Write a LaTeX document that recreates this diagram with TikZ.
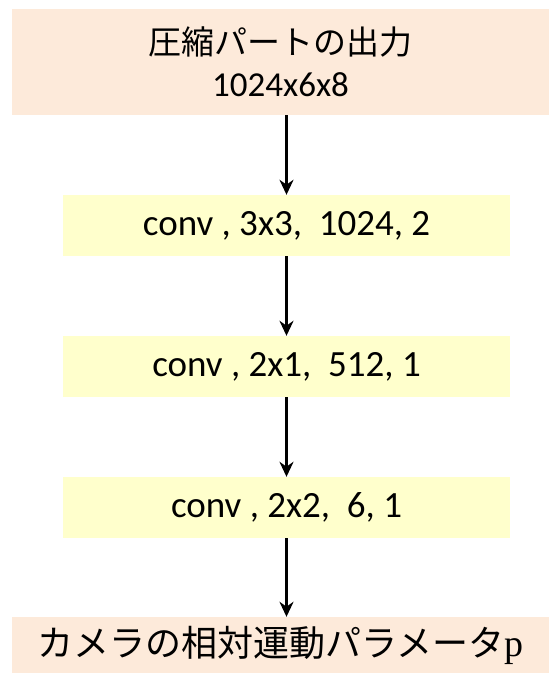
\documentclass[tikz,border=0pt]{standalone}
\usepackage{fontspec}
\setmainfont{Carlito}
\newfontfamily\jpfont{Noto Sans CJK JP}
\newfontfamily\pfont{Liberation Serif}
\usetikzlibrary{arrows.meta}
\definecolor{peach}{RGB}{253,234,218}
\definecolor{paleyellow}{RGB}{255,255,204}

\begin{document}
\begin{tikzpicture}[x=1pt,y=-1pt]
\tikzstyle{io box}=[fill=peach,inner sep=0,minimum width=537pt]
\tikzstyle{conv box}=[fill=paleyellow,inner sep=0,minimum width=447pt,minimum height=61pt,font=\fontsize{37}{42}\selectfont]
\tikzstyle{flow}=[-{Stealth[length=15pt,width=14pt]},line width=3pt]
\useasboundingbox (0,0) rectangle (549,673);

% input and output
\node(in)[io box,minimum height=106pt,align=center,font=\fontsize{35}{42}\selectfont] at (280.5,62)
  {{\jpfont\fontsize{33}{42}\selectfont 圧縮パートの出力}\\1024x6x8};
\node(out)[io box,minimum height=56pt,font=\fontsize{36}{40}\selectfont] at (280.5,645)
  {{\jpfont カメラの相対運動パラメータ}{\pfont\fontsize{38}{40}\selectfont p}\hspace{10pt}};

% conv layers
\node(c1)[conv box] at (286.5,225.5) {conv , 3x3,\ \ 1024, 2};
\node(c2)[conv box] at (286.5,366.5) {conv , 2x1,\ \ 512, 1};
\node(c3)[conv box] at (286.5,507.5) {conv , 2x2,\ \ 6, 1};

% connectors
\draw[flow] (in.south -| c1) -- (c1.north);
\draw[flow] (c1) -- (c2);
\draw[flow] (c2) -- (c3);
\draw[flow] (c3.south) -- (out.north -| c3);

\end{tikzpicture}
\end{document}
